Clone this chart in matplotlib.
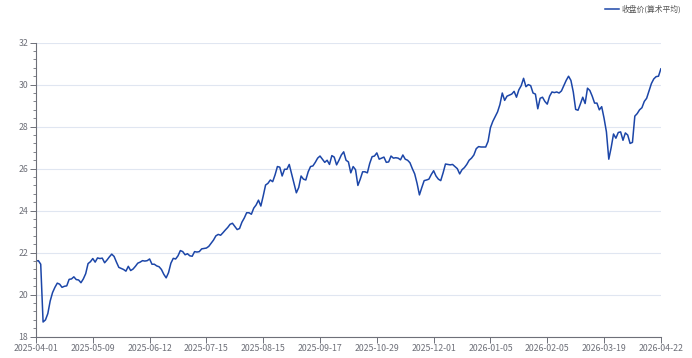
"""Closing price (arithmetic mean) line chart, 2025-04-01 .. 2026-04-22."""
import matplotlib
matplotlib.use("Agg")
import matplotlib.pyplot as plt
from matplotlib.ticker import MultipleLocator

plt.rcParams["font.family"] = ["Noto Sans CJK SC", "DejaVu Sans"]

SERIES_NAME = "收盘价(算术平均)"
TICK_DATES = ["2025-04-01", "2025-05-09", "2025-06-12", "2025-07-15",
              "2025-08-15", "2025-09-17", "2025-10-29", "2025-12-01",
              "2026-01-05", "2026-02-05", "2026-03-19", "2026-04-22"]
LABEL_STEP = 24  # one date label every 24 trading days

# daily close (one value per trading day)
close = [
    21.60, 21.62, 21.45, 18.70, 18.80, 19.10, 19.70, 20.10, 20.35, 20.55,
    20.50, 20.35, 20.40, 20.42, 20.73, 20.75, 20.85, 20.72, 20.70, 20.57,
    20.75, 21.00, 21.48, 21.57, 21.72, 21.55, 21.75, 21.72, 21.74, 21.52,
    21.65, 21.80, 21.93, 21.82, 21.55, 21.30, 21.25, 21.20, 21.12, 21.35,
    21.15, 21.22, 21.35, 21.50, 21.55, 21.62, 21.60, 21.62, 21.70, 21.45,
    21.45, 21.37, 21.33, 21.20, 20.97, 20.80, 21.05, 21.50, 21.73, 21.70,
    21.85, 22.10, 22.05, 21.90, 21.95, 21.85, 21.83, 22.05, 22.03, 22.05,
    22.18, 22.20, 22.22, 22.30, 22.45, 22.60, 22.80, 22.87, 22.83, 22.95,
    23.08, 23.20, 23.35, 23.40, 23.25, 23.10, 23.15, 23.45, 23.65, 23.90,
    23.90, 23.83, 24.12, 24.27, 24.50, 24.22, 24.70, 25.22, 25.30, 25.46,
    25.38, 25.70, 26.10, 26.07, 25.65, 25.97, 25.97, 26.20, 25.75, 25.30,
    24.85, 25.10, 25.65, 25.50, 25.46, 25.85, 26.10, 26.13, 26.30, 26.50,
    26.60, 26.45, 26.30, 26.40, 26.20, 26.62, 26.55, 26.18, 26.40, 26.65,
    26.80, 26.40, 26.32, 25.80, 26.10, 25.95, 25.20, 25.50, 25.85, 25.85,
    25.80, 26.25, 26.57, 26.60, 26.75, 26.45, 26.50, 26.55, 26.30, 26.32,
    26.60, 26.50, 26.52, 26.50, 26.42, 26.65, 26.45, 26.40, 26.28, 26.00,
    25.75, 25.30, 24.75, 25.10, 25.43, 25.46, 25.50, 25.72, 25.90, 25.65,
    25.50, 25.43, 25.80, 26.22, 26.20, 26.18, 26.20, 26.10, 26.00, 25.75,
    25.95, 26.05, 26.20, 26.40, 26.50, 26.65, 26.95, 27.05, 27.03, 27.03,
    27.03, 27.30, 27.95, 28.25, 28.48, 28.70, 29.05, 29.60, 29.25, 29.45,
    29.50, 29.55, 29.68, 29.40, 29.75, 29.95, 30.30, 29.90, 30.00, 29.95,
    29.60, 29.55, 28.85, 29.35, 29.40, 29.20, 29.07, 29.45, 29.65, 29.62,
    29.65, 29.60, 29.70, 29.95, 30.20, 30.40, 30.20, 29.65, 28.82, 28.78,
    29.08, 29.40, 29.10, 29.83, 29.72, 29.45, 29.12, 29.12, 28.80, 28.95,
    28.40, 27.75, 26.45, 27.00, 27.65, 27.45, 27.72, 27.75, 27.35, 27.70,
    27.60, 27.20, 27.25, 28.50, 28.62, 28.80, 28.90, 29.20, 29.35, 29.70,
    30.05, 30.27, 30.38, 30.40, 30.75,
]

LINE = "#1c46a8"
AXIS = "#6e7079"
GRID = "#e0e6f1"

fig = plt.figure(figsize=(6.92, 3.58), dpi=100)
ax = fig.add_axes([0.052, 0.0595, 0.903, 0.8215])

x = list(range(len(close)))
ln, = ax.plot(x, close, color=LINE, lw=1.1, solid_joinstyle="round",
              label=SERIES_NAME)

ax.set_xlim(0, len(close) - 1)
ax.set_ylim(18, 32)
ax.yaxis.set_major_locator(MultipleLocator(2))
ax.yaxis.set_minor_locator(MultipleLocator(0.4))
ax.set_xticks([i * LABEL_STEP for i in range(len(TICK_DATES))])
ax.set_xticklabels(TICK_DATES)

ax.grid(axis="y", color=GRID, lw=0.8)
ax.set_axisbelow(True)
for s in ("top", "right"):
    ax.spines[s].set_visible(False)
for s in ("left", "bottom"):
    ax.spines[s].set_color(AXIS)
    ax.spines[s].set_linewidth(0.8)

ax.tick_params(axis="both", which="major", direction="out", length=4,
               width=0.7, color=AXIS, labelcolor=AXIS, labelsize=6.3, pad=1.5)
ax.tick_params(axis="y", which="minor", direction="out", length=2.5,
               width=0.6, color=AXIS)

fig.legend(handles=[ln], loc="upper right", bbox_to_anchor=(0.995, 1.005),
           frameon=False, fontsize=5.6, handlelength=1.7, handletextpad=0.4,
           labelcolor="#555555")

fig.savefig("out.png", dpi=100)
